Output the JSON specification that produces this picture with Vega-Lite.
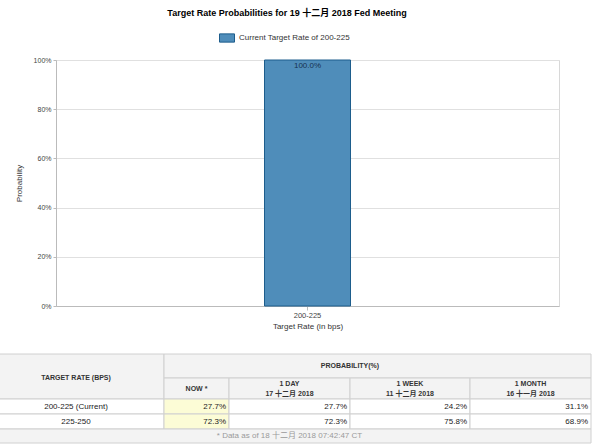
{
  "$schema": "https://vega.github.io/schema/vega-lite/v6.json",
  "padding": {"left": -13, "top": 8, "right": 0, "bottom": 0},
  "background": "#ffffff",
  "config": {
    "font": "Liberation Sans, Noto Sans CJK SC",
    "view": {"stroke": "#d8d8d8"},
    "axis": {"labelColor": "#444444", "titleColor": "#333333", "titleFontWeight": "normal", "domainColor": "#bbbbbb", "tickColor": "#bbbbbb", "gridColor": "#e0e0e0"}
  },
  "spacing": 22,
  "columns": 1,
  "concat": [
    {
      "title": {"text": "Target Rate Probabilities for 19 十二月 2018 Fed Meeting", "fontSize": 9, "fontWeight": "bold", "color": "#000000", "anchor": "middle", "frame": "bounds", "offset": 38},
      "width": 503,
      "height": 246,
      "data": {"values": [{"rate": "200-225", "prob": 1.0, "series": "Current Target Rate of 200-225"}]},
      "encoding": {
        "x": {"field": "rate", "type": "nominal", "axis": {"title": "Target Rate (in bps)", "labelAngle": 0, "labelFontSize": 7.5, "titleFontSize": 8, "tickSize": 4, "labelPadding": 1, "titlePadding": 4}},
        "y": {"field": "prob", "type": "quantitative", "scale": {"domain": [0, 1], "nice": false}, "axis": {"title": "Probability", "format": ".0%", "values": [0, 0.2, 0.4, 0.6, 0.8, 1], "labelFontSize": 7, "titleFontSize": 8, "tickSize": 3, "labelPadding": 2, "titlePadding": 10}}
      },
      "layer": [
        {
          "mark": {"type": "bar", "width": 86, "stroke": "#1d5d8c", "strokeWidth": 1},
          "encoding": {
            "color": {"field": "series", "type": "nominal", "scale": {"range": ["#4f8dba"]},
              "legend": {"orient": "none", "legendX": 163, "legendY": -30, "title": null, "symbolType": "M-1,-0.55H1V0.55H-1Z", "symbolSize": 225, "symbolStrokeColor": "#1d5d8c", "symbolStrokeWidth": 1, "symbolOpacity": 1, "labelFontSize": 8, "labelColor": "#333333"}}
          }
        },
        {
          "mark": {"type": "text", "baseline": "top", "dy": 2, "fontSize": 8, "color": "#17324f"},
          "encoding": {"text": {"field": "prob", "format": ".1%"}}
        }
      ]
    },
    {
      "width": 535,
      "height": 89,
      "view": {"stroke": null},
      "data": {"values": [
        {"part": "header", "col": "rate", "c0": 0, "c1": 1, "r0": 0, "r1": 2, "label": "TARGET RATE (BPS)"},
        {"part": "header", "col": "prob", "c0": 1, "c1": 5, "r0": 0, "r1": 1, "label": "PROBABILITY(%)"},
        {"part": "header", "col": "now", "c0": 1, "c1": 2, "r0": 1, "r1": 2, "label": "NOW *"},
        {"part": "header2", "col": "1d", "c0": 2, "c1": 3, "r0": 1, "r1": 2, "label": "1 DAY\n17 十二月 2018"},
        {"part": "header2", "col": "1w", "c0": 3, "c1": 4, "r0": 1, "r1": 2, "label": "1 WEEK\n11 十二月 2018"},
        {"part": "header2", "col": "1m", "c0": 4, "c1": 5, "r0": 1, "r1": 2, "label": "1 MONTH\n16 十一月 2018"},
        {"part": "rate", "col": "rate", "c0": 0, "c1": 1, "r0": 2, "r1": 3, "label": "200-225 (Current)"},
        {"part": "value", "col": "now", "c0": 1, "c1": 2, "r0": 2, "r1": 3, "prob": 0.277},
        {"part": "value", "col": "1d", "c0": 2, "c1": 3, "r0": 2, "r1": 3, "prob": 0.277},
        {"part": "value", "col": "1w", "c0": 3, "c1": 4, "r0": 2, "r1": 3, "prob": 0.242},
        {"part": "value", "col": "1m", "c0": 4, "c1": 5, "r0": 2, "r1": 3, "prob": 0.311},
        {"part": "rate", "col": "rate", "c0": 0, "c1": 1, "r0": 3, "r1": 4, "label": "225-250"},
        {"part": "value", "col": "now", "c0": 1, "c1": 2, "r0": 3, "r1": 4, "prob": 0.723},
        {"part": "value", "col": "1d", "c0": 2, "c1": 3, "r0": 3, "r1": 4, "prob": 0.723},
        {"part": "value", "col": "1w", "c0": 3, "c1": 4, "r0": 3, "r1": 4, "prob": 0.758},
        {"part": "value", "col": "1m", "c0": 4, "c1": 5, "r0": 3, "r1": 4, "prob": 0.689},
        {"part": "note", "col": "note", "c0": 0, "c1": 5, "r0": 4, "r1": 5, "label": "* Data as of 18 十二月 2018 07:42:47 CT"}
      ]},
      "layer": [
        {
          "mark": {"type": "rect", "stroke": "#d0d0d0", "strokeWidth": 1},
          "encoding": {
            "x": {"field": "c0", "type": "quantitative", "scale": {"domain": [0, 1, 2, 3, 4, 5], "range": [-68, 108, 173, 294, 414, 535], "nice": false, "zero": false}, "axis": null},
            "x2": {"field": "c1"},
            "y": {"field": "r0", "type": "quantitative", "scale": {"domain": [0, 1, 2, 3, 4, 5], "range": [0, 24, 45, 60, 75, 89], "nice": false, "zero": false}, "axis": null},
            "y2": {"field": "r1"},
            "fill": {"condition": [{"test": "datum.part === 'header' || datum.part === 'header2' || datum.part === 'note'", "value": "#f3f3f3"}, {"test": "datum.col === 'now'", "value": "#fcfcd6"}], "value": "#ffffff"}
          }
        },
        {
          "transform": [{"filter": "datum.part === 'header'"}, {"calculate": "(datum.c0 + datum.c1) / 2", "as": "cx"}, {"calculate": "(datum.r0 + datum.r1) / 2", "as": "cy"}],
          "mark": {"type": "text", "align": "center", "baseline": "middle", "fontSize": 7, "fontWeight": "bold", "color": "#333333"},
          "encoding": {
            "x": {"field": "cx", "type": "quantitative"},
            "y": {"field": "cy", "type": "quantitative"},
            "text": {"field": "label"}
          }
        },
        {
          "transform": [{"filter": "datum.part === 'header2'"}, {"calculate": "(datum.c0 + datum.c1) / 2", "as": "cx"}, {"calculate": "(datum.r0 + datum.r1) / 2", "as": "cy"}],
          "mark": {"type": "text", "align": "center", "baseline": "middle", "dy": -5, "fontSize": 7, "fontWeight": "bold", "color": "#333333", "lineBreak": "\n", "lineHeight": 10},
          "encoding": {
            "x": {"field": "cx", "type": "quantitative"},
            "y": {"field": "cy", "type": "quantitative"},
            "text": {"field": "label"}
          }
        },
        {
          "transform": [{"filter": "datum.part === 'rate' || datum.part === 'note'"}, {"calculate": "(datum.c0 + datum.c1) / 2", "as": "cx"}, {"calculate": "(datum.r0 + datum.r1) / 2", "as": "cy"}],
          "mark": {"type": "text", "align": "center", "baseline": "middle", "fontSize": 8},
          "encoding": {
            "x": {"field": "cx", "type": "quantitative"},
            "y": {"field": "cy", "type": "quantitative"},
            "text": {"field": "label"},
            "color": {"condition": {"test": "datum.part === 'note'", "value": "#9a9a9a"}, "value": "#222222"}
          }
        },
        {
          "transform": [{"filter": "datum.part === 'value'"}, {"calculate": "(datum.r0 + datum.r1) / 2", "as": "cy"}],
          "mark": {"type": "text", "align": "right", "baseline": "middle", "fontSize": 8, "dx": -3, "color": "#222222"},
          "encoding": {
            "x": {"field": "c1", "type": "quantitative"},
            "y": {"field": "cy", "type": "quantitative"},
            "text": {"field": "prob", "format": ".1%"}
          }
        }
      ]
    }
  ]
}
